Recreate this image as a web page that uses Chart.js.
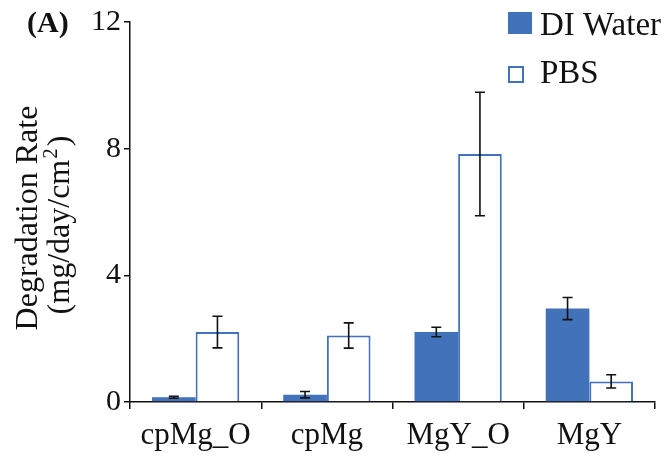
<!DOCTYPE html>
<html>
<head>
<meta charset="utf-8">
<script src="https://cdn.jsdelivr.net/npm/chart.js@4/dist/chart.umd.min.js"></script>
<style>
  html, body { margin: 0; padding: 0; background: #ffffff; }
  #wrap { width: 664px; height: 460px; }
</style>
</head>
<body>
<div id="wrap"><canvas id="c" width="664" height="460"></canvas></div>
<script>
// Degradation rate of each alloy in DI water and PBS (mean ± error)
const categories = ['cpMg_O', 'cpMg', 'MgY_O', 'MgY'];
const diWater    = [0.15, 0.23, 2.21, 2.95];
const diWaterErr = [0.03, 0.10, 0.15, 0.35];
const pbs        = [2.21, 2.10, 7.83, 0.65];
const pbsErr     = [0.50, 0.40, 1.95, 0.21];
const yTicks     = [0, 4, 8, 12];
const seriesNames = ['DI Water', 'PBS'];

const BLUE = '#4272BA';
const SERIF = '"Liberation Serif", "Times New Roman", serif';

// Whiskers on top of every bar, positioned through the chart scales
const errorBars = {
  id: 'errorBars',
  afterDatasetsDraw(chart) {
    const ctx = chart.ctx;
    const y = chart.scales.y;
    const errs = [diWaterErr, pbsErr];
    ctx.save();
    ctx.strokeStyle = '#111111';
    ctx.lineWidth = 1.6;
    chart.data.datasets.forEach((ds, di) => {
      chart.getDatasetMeta(di).data.forEach((bar, i) => {
        const v = ds.data[i], e = errs[di][i];
        const x = bar.x;
        const yt = y.getPixelForValue(v + e);
        const yb = y.getPixelForValue(v - e);
        ctx.beginPath();
        ctx.moveTo(x, yt); ctx.lineTo(x, yb);
        ctx.moveTo(x - 5, yt); ctx.lineTo(x + 5, yt);
        ctx.moveTo(x - 5, yb); ctx.lineTo(x + 5, yb);
        ctx.stroke();
      });
    });
    ctx.restore();
  }
};

// Panel letter, two-line axis title (with a raised "2") and the legend
const annotations = {
  id: 'annotations',
  afterDraw(chart) {
    const ctx = chart.ctx;
    const area = chart.chartArea;
    const mid = (area.top + area.bottom) / 2;
    ctx.save();
    ctx.fillStyle = '#111111';
    ctx.textBaseline = 'alphabetic';

    ctx.font = 'bold 30px ' + SERIF;
    ctx.textAlign = 'left';
    ctx.fillText('(A)', 27, 32);

    // y axis title, rotated to read bottom-to-top
    const big = '32px ' + SERIF, small = '21px ' + SERIF;
    ctx.font = big;
    ctx.textAlign = 'center';
    ctx.save();
    ctx.translate(37, mid + 6);
    ctx.rotate(-Math.PI / 2);
    ctx.fillText('Degradation Rate', 0, 0);
    ctx.restore();

    const partA = '(mg/day/cm', sup = '2', partB = ')';
    ctx.font = big;
    const wA = ctx.measureText(partA).width;
    const wB = ctx.measureText(partB).width;
    ctx.font = small;
    const wS = ctx.measureText(sup).width + 3;
    const total = wA + wS + wB;
    ctx.save();
    ctx.translate(69, mid + 13);
    ctx.rotate(-Math.PI / 2);
    ctx.textAlign = 'left';
    const x0 = -total / 2;
    ctx.font = big;
    ctx.fillText(partA, x0, 0);
    ctx.font = small;
    ctx.fillText(sup, x0 + wA + 1, -12);
    ctx.font = big;
    ctx.fillText(partB, x0 + wA + wS, 0);
    ctx.restore();

    // legend
    const dsets = chart.data.datasets;
    ctx.font = '33px ' + SERIF;
    ctx.textAlign = 'left';
    ctx.fillStyle = dsets[0].backgroundColor;
    ctx.fillRect(508, 12, 24, 22);
    ctx.fillStyle = '#111111';
    ctx.fillText(dsets[0].label, 540, 35);
    ctx.strokeStyle = dsets[1].borderColor;
    ctx.lineWidth = 2;
    ctx.strokeRect(509, 67, 14, 15);
    ctx.fillText(dsets[1].label, 540, 83);
    ctx.restore();
  }
};

new Chart(document.getElementById('c'), {
  type: 'bar',
  data: {
    labels: categories,
    datasets: [
      {
        label: seriesNames[0],
        data: diWater,
        backgroundColor: BLUE,
        borderWidth: 0
      },
      {
        label: seriesNames[1],
        data: pbs,
        backgroundColor: '#ffffff',
        borderColor: BLUE,
        borderWidth: 2,
        borderSkipped: 'start'
      }
    ]
  },
  options: {
    responsive: false,
    animation: false,
    devicePixelRatio: 1,
    layout: { padding: { top: 22, right: 9, left: 0, bottom: 0 } },
    datasets: { bar: { categoryPercentage: 0.665, barPercentage: 1.0 } },
    plugins: {
      legend: { display: false },
      tooltip: { enabled: false }
    },
    scales: {
      x: {
        afterFit(scale) { scale.height = 58; },
        grid: {
          offset: true,
          drawOnChartArea: false,
          drawTicks: true,
          tickLength: 7,
          color: '#111111',
          lineWidth: 1.5
        },
        border: { color: '#111111', width: 1.5 },
        ticks: {
          color: '#111111',
          font: { family: SERIF, size: 31 },
          padding: 8,
          maxRotation: 0
        }
      },
      y: {
        min: 0,
        max: 12,
        afterFit(scale) { scale.width = 130; },
        afterBuildTicks(scale) { scale.ticks = yTicks.map(v => ({ value: v })); },
        grid: {
          drawOnChartArea: false,
          drawTicks: true,
          tickLength: 6,
          color: '#111111',
          lineWidth: 1.5
        },
        border: { color: '#111111', width: 1.5 },
        ticks: {
          color: '#111111',
          font: { family: SERIF, size: 30 },
          padding: 3
        }
      }
    }
  },
  plugins: [errorBars, annotations]
});
</script>
</body>
</html>
